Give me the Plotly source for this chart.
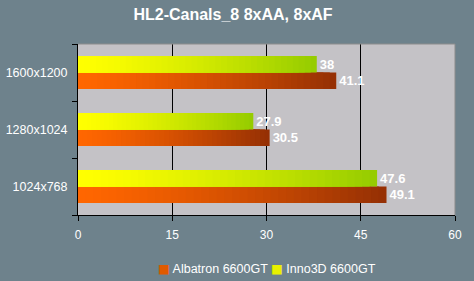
import plotly.graph_objects as go

categories = ["1024x768", "1280x1024", "1600x1200"]
albatron = [49.1, 30.5, 41.1]
inno3d = [47.6, 27.9, 38]
series_names = ["Albatron 6600GT", "Inno3D 6600GT"]
x_ticks = [0, 15, 30, 45, 60]

BG = "#6E828C"
PLOT_BG = "#C4C2C6"
FONT = "Liberation Sans, Arial, sans-serif"
N = 40

def lerp(c1, c2, t):
    t = t ** 1.3
    return "rgb(%d,%d,%d)" % tuple(round(a + (b - a) * t) for a, b in zip(c1, c2))

specs = [
    (series_names[0], albatron, (255, 102, 0), (150, 48, 4), "A"),
    (series_names[1], inno3d, (255, 255, 0), (150, 204, 0), "B"),
]

fig = go.Figure()
for name, vals, c1, c2, grp in specs:
    # overlapping layers: full bar (darkest) first, shorter & lighter layers on top
    for k in range(N):
        frac = (N - k) / N
        t = (N - k - 1) / (N - 1)
        first = k == 0
        fig.add_trace(go.Bar(
            y=categories, x=[v * frac for v in vals], orientation="h",
            offsetgroup=grp, name=name,
            marker=dict(color=lerp(c1, c2, t), line=dict(width=0)),
            showlegend=False,
            text=[("%g" % v) for v in vals] if first else None,
            textposition="outside" if first else "none",
            textfont=dict(color="white", size=13, family=FONT, weight="bold"),
            cliponaxis=False, hoverinfo="skip",
        ))

legend_text = (
    "<span style='color:#E05A00;font-family:DejaVu Sans'>■</span> %s "
    "<span style='color:#E8F000;font-family:DejaVu Sans'>■</span> %s" % tuple(series_names)
)

fig.update_layout(
    width=474, height=281,
    margin=dict(l=78, r=19, t=44, b=66, autoexpand=False),
    paper_bgcolor=BG, plot_bgcolor=PLOT_BG,
    barmode="group", bargap=0.42, bargroupgap=0,
    title=dict(text="HL2-Canals_8 8xAA, 8xAF", x=0.4916, xanchor="center", y=0.95, yanchor="middle",
               font=dict(color="white", size=16, family=FONT, weight="bold")),
    font=dict(family=FONT, color="white", size=12),
    showlegend=False,
    xaxis=dict(range=[0, 60], tickvals=x_ticks, showgrid=True, gridcolor="black", gridwidth=1,
               showline=True, linecolor="black", linewidth=1, ticks="outside", ticklen=5,
               tickcolor="black", tickfont=dict(color="white", size=12), zeroline=False,
               ticklabelstandoff=4, automargin=False, fixedrange=True),
    yaxis=dict(type="category", categoryorder="array", categoryarray=categories,
               tickson="boundaries", ticks="outside", ticklen=5, tickcolor="black",
               showline=True, linecolor="black", linewidth=1, showgrid=False,
               tickfont=dict(color="white", size=12.5), ticklabelstandoff=7,
               automargin=False, fixedrange=True),
    annotations=[dict(text=legend_text, xref="paper", yref="paper", x=0.5, y=-0.31,
                      xanchor="center", yanchor="middle", showarrow=False,
                      font=dict(color="white", size=12.5, family=FONT))],
)
fig.add_shape(type="line", xref="paper", yref="paper", x0=0, x1=1, y0=1, y1=1,
              line=dict(color="#8C8C8C", width=1))
fig.add_shape(type="line", xref="paper", yref="paper", x0=1, x1=1, y0=0, y1=1,
              line=dict(color="#8C8C8C", width=1))

fig.write_html("out.html")
